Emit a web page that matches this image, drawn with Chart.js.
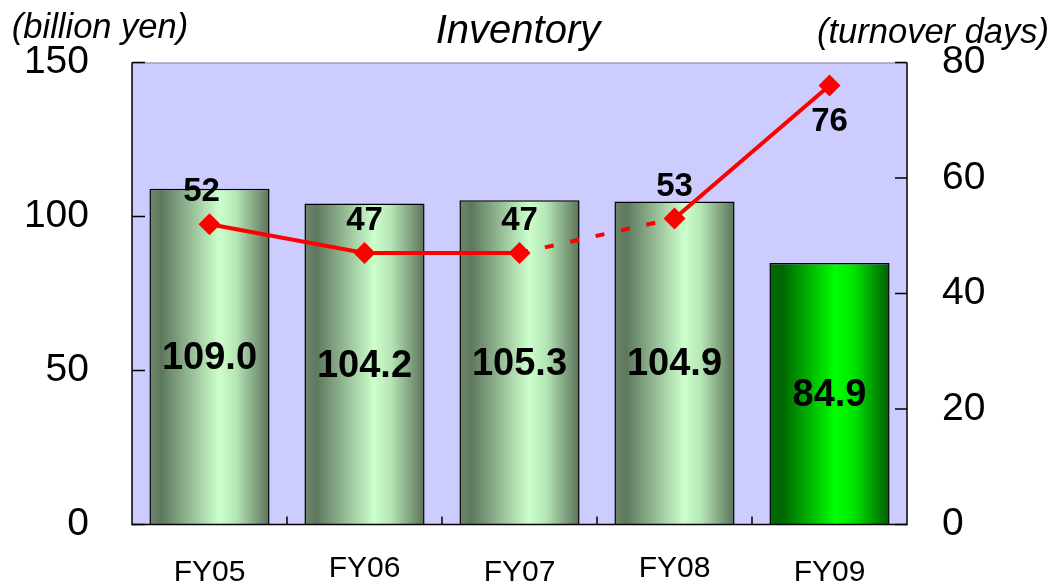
<!DOCTYPE html>
<html>
<head>
<meta charset="utf-8">
<script src="https://cdn.jsdelivr.net/npm/chart.js@4"></script>
<style>
  html, body { margin: 0; padding: 0; background: #ffffff; }
  #wrap { width: 1054px; height: 587px; }
</style>
</head>
<body>
<div id="wrap"><canvas id="inventoryChart" width="1054" height="587"></canvas></div>
<script>
// chart data
var years = ["FY05", "FY06", "FY07", "FY08", "FY09"];
var inventory = [109.0, 104.2, 105.3, 104.9, 84.9];
var turnoverDays = [52, 47, 47, 53, 76];
var leftTicks = [0, 50, 100, 150];
var rightTicks = [0, 20, 40, 60, 80];

var ctx = document.getElementById("inventoryChart").getContext("2d");
var BAR_PCT = 0.775;
var FONT = "Arial, 'Liberation Sans', sans-serif";

// horizontal gradient for each bar, FY09 is bright green
function barFill(context) {
  var chart = context.chart;
  var xScale = chart.scales.x;
  if (!chart.chartArea || !xScale) return "#a8d8a8";
  var cx = xScale.getPixelForValue(context.dataIndex);
  var half = (xScale.width / years.length) * BAR_PCT / 2;
  var g = chart.ctx.createLinearGradient(cx - half, 0, cx + half, 0);
  if (context.dataIndex === years.length - 1) {
    g.addColorStop(0, "#006c00");
    g.addColorStop(0.1, "#006400");
    g.addColorStop(0.55, "#00ff00");
    g.addColorStop(0.7, "#00e600");
    g.addColorStop(1, "#005c00");
  } else {
    g.addColorStop(0, "#6e886e");
    g.addColorStop(0.1, "#5e785e");
    g.addColorStop(0.58, "#ccffcc");
    g.addColorStop(0.72, "#b6e6b6");
    g.addColorStop(1, "#5a725a");
  }
  return g;
}

// plot background, inward ticks, titles and value labels
var decorPlugin = {
  id: "decor",
  beforeDraw: function (chart) {
    var a = chart.chartArea;
    var c = chart.ctx;
    c.save();
    c.fillStyle = "#ccccff";
    c.fillRect(a.left, a.top, a.right - a.left, a.bottom - a.top);
    c.restore();
  },
  afterDatasetsDraw: function (chart) {
    var a = chart.chartArea;
    var c = chart.ctx;
    c.save();
    // frame
    c.strokeStyle = "#8a8a9a";
    c.lineWidth = 1;
    c.beginPath();
    c.moveTo(a.left, a.top + 0.5);
    c.lineTo(a.right, a.top + 0.5);
    c.stroke();
    c.strokeStyle = "#000000";
    c.lineWidth = 1.5;
    c.beginPath();
    c.moveTo(a.left, a.top);
    c.lineTo(a.left, a.bottom);
    c.lineTo(a.right, a.bottom);
    c.lineTo(a.right, a.top);
    c.stroke();
    // inward ticks
    c.beginPath();
    leftTicks.forEach(function (v) {
      var y = chart.scales.y.getPixelForValue(v);
      c.moveTo(a.left, y);
      c.lineTo(a.left + 13, y);
    });
    rightTicks.forEach(function (v) {
      var y = chart.scales.y1.getPixelForValue(v);
      c.moveTo(a.right, y);
      c.lineTo(a.right - 12, y);
    });
    var step = (a.right - a.left) / years.length;
    for (var i = 1; i < years.length; i++) {
      var x = a.left + step * i;
      c.moveTo(x, a.bottom);
      c.lineTo(x, a.bottom - 8);
    }
    c.stroke();

    c.fillStyle = "#000000";
    c.textAlign = "center";
    c.textBaseline = "middle";

    // category labels under the axis, slightly staggered like the original
    c.font = "30px " + FONT;
    years.forEach(function (label, i) {
      var x = chart.scales.x.getPixelForValue(i);
      c.fillText(label, x, a.bottom + (i % 2 === 0 ? 48 : 44));
    });

    // bar value labels
    c.font = "bold 38px " + FONT;
    var bars = chart.getDatasetMeta(0).data;
    bars.forEach(function (bar, i) {
      c.fillText(inventory[i].toFixed(1), bar.x, (bar.y + bar.base) / 2 + 2);
    });

    // turnover labels, last one sits below its point
    c.font = "bold 33px " + FONT;
    var pts = chart.getDatasetMeta(1).data;
    pts.forEach(function (p, i) {
      var dy = i === pts.length - 1 ? 36 : -32;
      var dx = i === 0 ? -8 : 0;
      c.fillText(String(turnoverDays[i]), p.x + dx, p.y + dy);
    });

    // titles
    c.font = "italic 40px " + FONT;
    c.fillText("Inventory", 518, 32);
    c.font = "italic 34.5px " + FONT;
    c.fillText("(billion yen)", 100, 28);
    c.fillText("(turnover days)", 933, 33);
    c.restore();
  },
};

var inventoryChart = new Chart(ctx, {
  type: "bar",
  data: {
    labels: years,
    datasets: [
      {
        type: "bar",
        label: "Inventory",
        data: inventory,
        yAxisID: "y",
        backgroundColor: barFill,
        borderColor: "#000000",
        borderWidth: 1.5,
        barPercentage: BAR_PCT,
        categoryPercentage: 1,
        order: 1,
      },
      {
        type: "line",
        label: "Turnover days",
        data: turnoverDays,
        yAxisID: "y1",
        borderColor: "#ff0000",
        borderWidth: 4,
        pointStyle: "rectRot",
        pointRadius: 11,
        pointBackgroundColor: "#ff0000",
        pointBorderColor: "#ff0000",
        pointBorderWidth: 0,
        tension: 0,
        segment: {
          borderDash: function (s) {
            return s.p0DataIndex === 2 ? [9, 17] : undefined;
          },
        },
        order: 0,
      },
    ],
  },
  options: {
    responsive: false,
    animation: false,
    layout: { padding: { top: 61, left: 0, right: 0, bottom: 59 } },
    plugins: {
      legend: { display: false },
      tooltip: { enabled: false },
    },
    scales: {
      x: {
        display: false,
      },
      y: {
        position: "left",
        min: 0,
        max: 150,
        grid: { display: false, drawTicks: false, tickLength: 0 },
        border: { display: false },
        ticks: {
          stepSize: 50,
          color: "#000000",
          padding: 43,
          font: { family: FONT, size: 39, lineHeight: 1 },
        },
        afterFit: function (s) { s.width = 132; },
      },
      y1: {
        position: "right",
        min: 0,
        max: 80,
        grid: { display: false, drawTicks: false, tickLength: 0 },
        border: { display: false },
        ticks: {
          stepSize: 20,
          color: "#000000",
          padding: 35,
          font: { family: FONT, size: 39, lineHeight: 1 },
        },
        afterFit: function (s) { s.width = 147; },
      },
    },
  },
  plugins: [decorPlugin],
});
</script>
</body>
</html>
